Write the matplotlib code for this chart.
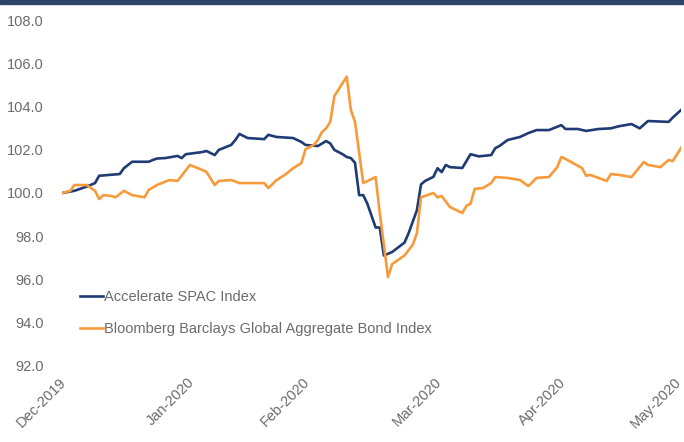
import matplotlib
matplotlib.use("Agg")
import matplotlib.pyplot as plt
import matplotlib.dates as mdates
from matplotlib.patches import Rectangle
from matplotlib.transforms import ScaledTranslation
import pandas as pd

spac_dates = ["2019-12-31", "2020-01-03", "2020-01-06", "2020-01-08", "2020-01-09", "2020-01-14",
              "2020-01-15", "2020-01-17", "2020-01-21", "2020-01-22", "2020-01-23", "2020-01-25",
              "2020-01-28", "2020-01-29", "2020-01-30", "2020-02-03", "2020-02-04", "2020-02-06",
              "2020-02-07", "2020-02-10", "2020-02-11", "2020-02-12", "2020-02-14", "2020-02-18",
              "2020-02-19", "2020-02-21", "2020-02-25", "2020-02-27", "2020-02-28", "2020-03-02",
              "2020-03-04", "2020-03-05", "2020-03-06", "2020-03-08", "2020-03-09", "2020-03-10",
              "2020-03-11", "2020-03-12", "2020-03-13", "2020-03-14", "2020-03-16", "2020-03-17",
              "2020-03-18", "2020-03-20", "2020-03-23", "2020-03-24", "2020-03-26", "2020-03-27",
              "2020-03-28", "2020-03-30", "2020-03-31", "2020-04-01", "2020-04-02", "2020-04-03",
              "2020-04-06", "2020-04-08", "2020-04-10", "2020-04-13", "2020-04-14", "2020-04-15",
              "2020-04-17", "2020-04-20", "2020-04-22", "2020-04-24", "2020-04-27", "2020-04-30",
              "2020-05-01", "2020-05-04", "2020-05-06", "2020-05-09", "2020-05-12", "2020-05-14",
              "2020-05-17", "2020-05-19", "2020-05-21", "2020-05-26", "2020-05-27", "2020-05-29"]
spac_values = [100.0, 100.1, 100.3, 100.46, 100.8, 100.88,
               101.15, 101.45, 101.45, 101.53, 101.6, 101.62,
               101.72, 101.62, 101.8, 101.9, 101.95, 101.76,
               102.0, 102.23, 102.46, 102.74, 102.55, 102.5,
               102.7, 102.6, 102.55, 102.37, 102.23, 102.18,
               102.41, 102.3, 102.0, 101.8, 101.67, 101.62,
               101.4, 99.9, 99.9, 99.5, 98.4, 98.4,
               97.1, 97.26, 97.7, 98.14, 99.2, 100.4,
               100.56, 100.75, 101.15, 100.97, 101.3, 101.2,
               101.16, 101.8, 101.7, 101.76, 102.08, 102.18,
               102.46, 102.6, 102.78, 102.92, 102.92, 103.15,
               102.97, 102.97, 102.88, 102.97, 103.0, 103.1,
               103.2, 103.0, 103.34, 103.3, 103.5, 103.85]

bond_dates = ["2019-12-31", "2020-01-02", "2020-01-03", "2020-01-06", "2020-01-08", "2020-01-09",
              "2020-01-10", "2020-01-12", "2020-01-13", "2020-01-15", "2020-01-17", "2020-01-20",
              "2020-01-21", "2020-01-23", "2020-01-26", "2020-01-28", "2020-01-31", "2020-02-02",
              "2020-02-04", "2020-02-06", "2020-02-07", "2020-02-10", "2020-02-12", "2020-02-18",
              "2020-02-19", "2020-02-21", "2020-02-23", "2020-02-25", "2020-02-27", "2020-02-28",
              "2020-03-01", "2020-03-02", "2020-03-03", "2020-03-04", "2020-03-05", "2020-03-06",
              "2020-03-07", "2020-03-09", "2020-03-10", "2020-03-11", "2020-03-13", "2020-03-16",
              "2020-03-17", "2020-03-19", "2020-03-20", "2020-03-23", "2020-03-25", "2020-03-26",
              "2020-03-27", "2020-03-30", "2020-03-31", "2020-04-01", "2020-04-03", "2020-04-06",
              "2020-04-07", "2020-04-08", "2020-04-09", "2020-04-11", "2020-04-13", "2020-04-14",
              "2020-04-17", "2020-04-20", "2020-04-22", "2020-04-24", "2020-04-27", "2020-04-29",
              "2020-04-30", "2020-05-01", "2020-05-05", "2020-05-06", "2020-05-07", "2020-05-11",
              "2020-05-12", "2020-05-14", "2020-05-17", "2020-05-20", "2020-05-21", "2020-05-24",
              "2020-05-26", "2020-05-27", "2020-05-29"]
bond_values = [100.0, 100.1, 100.37, 100.37, 100.1, 99.72,
               99.9, 99.86, 99.8, 100.1, 99.9, 99.8,
               100.14, 100.37, 100.6, 100.56, 101.3, 101.15,
               100.98, 100.37, 100.56, 100.6, 100.46, 100.46,
               100.23, 100.6, 100.84, 101.15, 101.38, 102.03,
               102.23, 102.46, 102.83, 103.0, 103.3, 104.5,
               104.8, 105.4, 103.85, 103.3, 100.46, 100.74,
               99.07, 96.1, 96.7, 97.1, 97.6, 98.14,
               99.8, 100.0, 99.8, 99.86, 99.35, 99.07,
               99.4, 99.5, 100.19, 100.23, 100.46, 100.74,
               100.7, 100.6, 100.32, 100.7, 100.74, 101.2,
               101.67, 101.58, 101.16, 100.8, 100.84, 100.56,
               100.88, 100.84, 100.74, 101.44, 101.3, 101.2,
               101.53, 101.48, 102.09]

tick_dates = ["2019-12-31", "2020-01-31", "2020-02-28", "2020-03-31", "2020-04-30", "2020-05-29"]
series_names = ["Accelerate SPAC Index", "Bloomberg Barclays Global Aggregate Bond Index"]
y_ticks = [92, 94, 96, 98, 100, 102, 104, 106, 108]

plt.rcParams['font.family'] = ['Liberation Sans', 'DejaVu Sans']

fig = plt.figure(figsize=(6.84, 4.42), dpi=100)
ax = fig.add_axes([62 / 684, 1 - 365.4 / 442, 619 / 684, (365.4 - 20.6) / 442])

navy = '#1F3B73'
orange = '#F79A3B'
grey = '#6B6B6B'

ax.plot(pd.to_datetime(spac_dates), spac_values, color=navy, lw=1.9, label=series_names[0],
        solid_joinstyle='round')
ax.plot(pd.to_datetime(bond_dates), bond_values, color=orange, lw=1.9, label=series_names[1],
        solid_joinstyle='round')

ax.set_xlim(pd.Timestamp(tick_dates[0]), pd.Timestamp(tick_dates[-1]))
ax.set_ylim(92, 108)
ax.set_yticks(y_ticks)
ax.set_yticklabels([f"{v:.1f}" for v in y_ticks])
ax.set_xticks(pd.to_datetime(tick_dates))
ax.xaxis.set_major_formatter(mdates.DateFormatter('%b-%Y'))

for s in ax.spines.values():
    s.set_visible(False)
ax.tick_params(axis='both', length=0, labelsize=10.5, colors=grey)
ax.tick_params(axis='y', pad=13)
ax.tick_params(axis='x', pad=7)
xlabels = ax.get_xticklabels()
for i, lab in enumerate(xlabels):
    dx = -7 if i == len(xlabels) - 1 else -3
    lab.set_rotation(45)
    lab.set_ha('right')
    lab.set_va('top')
    lab.set_rotation_mode('anchor')
    lab.set_transform(lab.get_transform() + ScaledTranslation(dx / 100, 0, fig.dpi_scale_trans))

leg = ax.legend(loc='upper left', bbox_to_anchor=(0.029, 0.219), frameon=False,
                fontsize=10.5, handlelength=1.6, handletextpad=0.05, labelspacing=1.22,
                borderpad=0, borderaxespad=0)
for t in leg.get_texts():
    t.set_color(grey)

fig.patches.append(Rectangle((0, 1 - 4 / 442), 1, 4 / 442, transform=fig.transFigure,
                             color='#2C4568', zorder=0))

fig.savefig('out.png', dpi=100)
